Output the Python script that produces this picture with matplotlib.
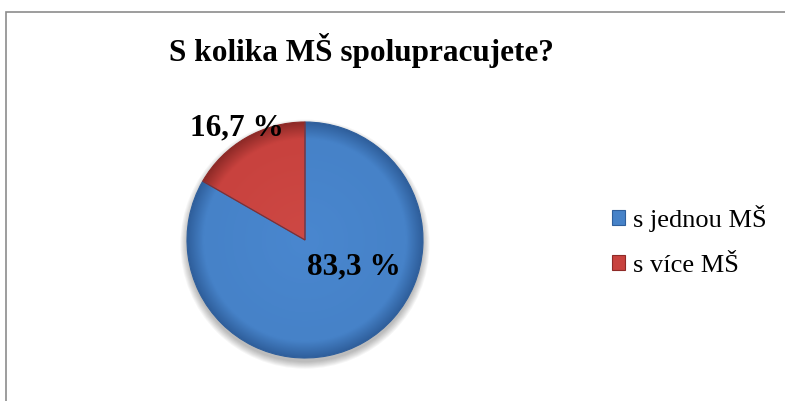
import matplotlib
matplotlib.use("Agg")
import numpy as np
import matplotlib.pyplot as plt
from matplotlib.patches import Rectangle, Patch, Circle
from matplotlib.colors import to_rgb

title = "S kolika MŠ spolupracujete?"
categories = ["s jednou MŠ", "s více MŠ"]
values = [83.3, 16.7]
value_labels = ["83,3 %", "16,7 %"]
colors = ["#4682c8", "#c8423e"]
rim_colors = ["#2f5f9c", "#8e2a27"]
light_colors = ["#5090dc", "#d85550"]

plt.rcParams["font.family"] = ["Liberation Serif", "DejaVu Serif"]

fig = plt.figure(figsize=(7.85, 4.01), dpi=100)

# outer chart border (clipped on right/bottom as in reference)
fig.patches.append(Rectangle((6 / 785, -0.05), 1.2, (401 - 12) / 401 + 0.05,
                             transform=fig.transFigure, fill=False,
                             edgecolor="#8c8c8c", linewidth=1.2))

fig.text(361 / 785, 1 - 50 / 401, title, ha="center", va="center",
         fontsize=22.5, fontweight="bold")

ax = fig.add_axes([187 / 785, (401 - 358) / 401, 236 / 785, 236 / 401])

# soft blurred shadow
for i in range(8):
    ax.add_patch(Circle((0.0, -0.035), 1.0 + 0.008 * i, color="#000000",
                        alpha=0.035, zorder=0, linewidth=0, clip_on=False))

wedges, _ = ax.pie(values, colors=colors, startangle=90, counterclock=False,
                   radius=1.0, wedgeprops=dict(linewidth=0.8))

# radial shading clipped to each wedge
n = 300
xs = np.linspace(-1, 1, n)
X, Y = np.meshgrid(xs, xs)
R = np.sqrt(X ** 2 + Y ** 2)
for w, base, rim, light in zip(wedges, colors, rim_colors, light_colors):
    b = np.array(to_rgb(base)); r = np.array(to_rgb(rim)); l = np.array(to_rgb(light))
    t_rim = np.clip((R - 0.86) / 0.14, 0, 1)[..., None]
    t_light = np.clip((0.86 - R) / 0.86, 0, 1)[..., None] * 0.35
    img = b * (1 - t_rim) + r * t_rim
    img = img * (1 - t_light) + l * t_light
    im = ax.imshow(np.clip(img, 0, 1), extent=(-1, 1, -1, 1), origin="lower",
                   zorder=1.5, interpolation="bilinear")
    im.set_clip_path(w)
    w.set_edgecolor(rim)
    w.set_zorder(2)
    w.set_facecolor("none")
    w.set_clip_on(False)

ax.set_xlim(-1.0, 1.0)
ax.set_ylim(-1.0, 1.0)
ax.set_aspect("equal")
ax.axis("off")

label_pos = [(0.41, -0.23), (-0.576, 0.95)]
for (x, y), t in zip(label_pos, value_labels):
    ax.text(x, y, t, ha="center", va="center", fontsize=22.5,
            fontweight="bold", zorder=5)

handles = [Patch(facecolor=c, edgecolor=e, linewidth=0.8)
           for c, e in zip(colors, rim_colors)]
leg = fig.legend(handles, categories, loc="center left",
                 bbox_to_anchor=(588 / 785, 1 - 241 / 401),
                 frameon=False, fontsize=19, handlelength=0.5,
                 handleheight=0.5, handletextpad=0.3, labelspacing=0.85)

fig.savefig("out.png", dpi=100)
